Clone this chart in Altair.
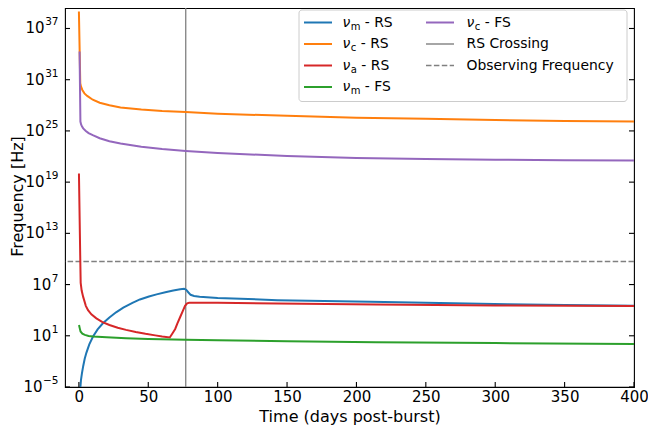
import altair as alt
import pandas as pd

# ---------------- data ----------------
t_num_rs = [1.1, 1.5, 2.2, 3.1, 4.2, 5.4, 7.5, 10.2, 13.5, 17.3, 22, 26.8, 32, 38.6, 44, 50.5,
            56, 62.3, 68, 73, 75.8, 77.3, 78.8, 80.5, 83, 87, 100, 143, 210, 260, 309, 350, 400]
num_rs = [1e-5, 6.3e-5, 4e-4, 2.75e-3, 0.02, 0.1, 1.0, 8.3, 56, 290, 1410, 5600, 2e4, 7.1e4,
          1.8e5, 4e5, 7.1e5, 1.26e6, 2e6, 2.8e6, 3.2e6, 2.5e6, 1.26e6, 6.3e5, 4.6e5, 3.8e5,
          2.75e5, 1.5e5, 9.5e4, 7.1e4, 5.1e4, 4e4, 3.2e4]

t_nuc_rs = [0.02, 1.0, 1.5, 2.5, 4, 6, 10, 15, 22, 30, 45, 60, 77, 100, 150, 200, 250, 300, 350, 400]
nuc_rs = [1e39, 4e30, 1.6e30, 6.3e29, 2.5e29, 1.26e29, 4.5e28, 2e28, 1e28, 5.6e27, 3.2e27,
          2.1e27, 1.6e27, 1.05e27, 5.8e26, 3.6e26, 2.6e26, 1.9e26, 1.5e26, 1.23e26]

t_nua_rs = [0.05, 1.0, 1.3, 2.0, 3.1, 5.0, 6.6, 9.0, 12.6, 17, 22, 28, 34, 41, 48, 55, 60, 65.5,
            67.5, 69.4, 71, 73, 75, 76.5, 78, 79.5, 90, 100, 143, 214, 300, 400]
nua_rs = [1e20, 1e10, 1.6e7, 2e6, 3.6e5, 3.2e4, 1e4, 3.2e3, 1.1e3, 400, 186, 89, 49, 27.5, 17,
          11.2, 8.3, 6.3, 20, 63, 282, 1580, 8900, 3.2e4, 6.3e4, 7.2e4, 7.4e4, 7.2e4, 6e4,
          4.6e4, 3.6e4, 3e4]

t_num_fs = [0.1, 0.6, 1.2, 2.5, 4.3, 7, 10.2, 20, 34, 50, 77, 100, 150, 214, 300, 400]
num_fs = [186, 79, 32, 17.8, 12.6, 9.5, 8.3, 6.6, 5.2, 4.3, 3.4, 2.95, 2.3, 1.8, 1.4, 1.07]

t_nuc_fs = [0.5, 1.1, 1.6, 2.2, 3.1, 5, 7, 10, 15, 22, 30, 45, 60, 77, 100, 150, 200, 250, 300, 350, 400]
nuc_fs = [2e34, 1.26e26, 5.6e25, 3.5e25, 2e25, 1e25, 5.6e24, 3.2e24, 1.4e24, 6.3e23, 3.3e23,
          1.4e23, 7.6e22, 4.5e22, 2.6e22, 1.15e22, 6.6e21, 5e21, 4.2e21, 3.7e21, 3.4e21]

t_crossing = [77]
nu_observing = [5e9]

x_tick_values = [0, 50, 100, 150, 200, 250, 300, 350, 400]
y_tick_values = [1e-5, 1e1, 1e7, 1e13, 1e19, 1e25, 1e31, 1e37]
y_tick_exponents = ["\u22125", "1", "7", "13", "19", "25", "31", "37"]

# ---------------- styling ----------------
FONT = "DejaVu Sans"
TICK_FS = 15
EXP_FS = 10.5
TITLE_FS = 16
LEG_FS = 13.9
W, H = 569, 379
BLUE, ORANGE, RED, GREEN, PURPLE = "#1f77b4", "#ff7f0e", "#d62728", "#2ca02c", "#9467bd"

xs = alt.Scale(domain=[-10, 400], nice=False, zero=False)
ys = alt.Scale(type="log", domain=[1e-5, 10 ** 39.4], nice=False)

xaxis = alt.Axis(values=x_tick_values, ticks=False, domain=False, grid=False,
                 labelFont=FONT, labelFontSize=TICK_FS, labelColor="black", labelPadding=2,
                 labelFlush=False, labelOverlap=False, labelBound=False,
                 title="Time (days post-burst)", titleFont=FONT, titleFontSize=TITLE_FS,
                 titleFontWeight="normal", titleColor="black",
                 titleX=W / 2, titleY=29, titleBaseline="middle", titleAlign="center")
yaxis = alt.Axis(labels=False, ticks=False, domain=False, grid=False,
                 title="Frequency [Hz]", titleFont=FONT, titleFontSize=TITLE_FS,
                 titleFontWeight="normal", titleColor="black",
                 titleX=-47.5, titleY=188, titleAngle=270, titleBaseline="middle",
                 titleAlign="center")

X = lambda: alt.X("t:Q", scale=xs, axis=xaxis)
Y = lambda: alt.Y("nu:Q", scale=ys, axis=yaxis)

layers = []

# observing frequency & crossing
layers.append(alt.Chart(pd.DataFrame({"nu": nu_observing})).mark_rule(
    color="#808080", strokeDash=[5.5, 2.4], strokeWidth=1.5).encode(y=Y()))
layers.append(alt.Chart(pd.DataFrame({"t": t_crossing})).mark_rule(
    color="#808080", strokeWidth=1.3).encode(x=X()))

series = [
    (t_num_rs, num_rs, BLUE),
    (t_nuc_rs, nuc_rs, ORANGE),
    (t_nua_rs, nua_rs, RED),
    (t_num_fs, num_fs, GREEN),
    (t_nuc_fs, nuc_fs, PURPLE),
]
for t, v, c in series:
    df = pd.DataFrame({"t": t, "nu": v})
    layers.append(alt.Chart(df).mark_line(color=c, strokeWidth=2, clip=True).encode(
        x=X(), y=Y(), order="t:Q"))

# inward ticks
ydf = pd.DataFrame({"nu": y_tick_values, "e": y_tick_exponents})
xdf = pd.DataFrame({"t": x_tick_values})
layers.append(alt.Chart(ydf).mark_rule(color="black", strokeWidth=1.1).encode(
    y=Y(), x=alt.value(0), x2=alt.value(5)))
layers.append(alt.Chart(ydf).mark_rule(color="black", strokeWidth=1.1).encode(
    y=Y(), x=alt.value(W - 5), x2=alt.value(W)))
layers.append(alt.Chart(xdf).mark_rule(color="black", strokeWidth=1.1).encode(
    x=X(), y=alt.value(H - 5), y2=alt.value(H)))

# y tick labels "10" + exponent
EXP_RIGHT = -6.5
DIG = 0.636 * EXP_FS
MINUS = 0.838 * EXP_FS
for ew, sel in [(2 * DIG, lambda e: len(e) == 2 and not e.startswith("\u2212")),
                (DIG, lambda e: len(e) == 1),
                (DIG + MINUS, lambda e: e.startswith("\u2212"))]:
    sub = ydf[ydf["e"].map(sel)]
    layers.append(alt.Chart(sub).mark_text(font=FONT, fontSize=TICK_FS, align="right",
                                           baseline="middle", color="black", text="10").encode(
        y=Y(), x=alt.value(EXP_RIGHT - ew - 0.5)))
    layers.append(alt.Chart(sub).mark_text(font=FONT, fontSize=EXP_FS, align="right",
                                           baseline="middle", color="black", dy=-6).encode(
        y=Y(), x=alt.value(EXP_RIGHT), text="e:N"))

# ---------------- legend (drawn by hand, matplotlib-like) ----------------
dummy = pd.DataFrame({"d": [0]})


def txt(x, y, s, size=LEG_FS, italic=False, dy=0):
    return alt.Chart(dummy).mark_text(text=s, font=FONT, fontSize=size,
                                      fontStyle="italic" if italic else "normal",
                                      align="left", baseline="middle", dy=dy,
                                      color="black").encode(x=alt.value(x), y=alt.value(y))


def handle(x1, x2, y, color, dash=None, width=2.0):
    kw = dict(color=color, strokeWidth=width)
    if dash:
        kw["strokeDash"] = dash
    return alt.Chart(dummy).mark_rule(**kw).encode(x=alt.value(x1), x2=alt.value(x2), y=alt.value(y))


# legend anchored to the upper-right corner of the plot area
R = W - 7
layers.append(alt.Chart(dummy).mark_rect(fill="white", fillOpacity=0.8, stroke="#cccccc",
                                         strokeWidth=1, cornerRadius=3).encode(
    x=alt.value(R - 328), x2=alt.value(R), y=alt.value(2), y2=alt.value(93.5)))

rows = [14.5, 36, 57.5, 79]
SUBW = {"m": 9.5, "c": 5.5, "a": 6.1}
SPACE = 0.318 * LEG_FS
NU_W = 8.3
L0 = R - 328
c1h, c1t = (L0 + 5, L0 + 33), L0 + 43.5
c2h, c2t = (L0 + 127, L0 + 155), L0 + 167.5

col1 = [("m", "- RS", BLUE), ("c", "- RS", ORANGE), ("a", "- RS", RED), ("m", "- FS", GREEN)]
for (s, rest, color), ry in zip(col1, rows):
    layers.append(handle(c1h[0], c1h[1], ry, color))
    layers.append(txt(c1t, ry, "\u03bd", italic=True))
    layers.append(txt(c1t + NU_W, ry, s, size=10, dy=4))
    layers.append(txt(c1t + NU_W + SUBW[s] + SPACE, ry, rest))

layers.append(handle(c2h[0], c2h[1], rows[0], PURPLE))
layers.append(txt(c2t, rows[0], "\u03bd", italic=True))
layers.append(txt(c2t + NU_W, rows[0], "c", size=10, dy=4))
layers.append(txt(c2t + NU_W + SUBW["c"] + SPACE, rows[0], "- FS"))
layers.append(handle(c2h[0], c2h[1], rows[1], "#808080", width=1.4))
layers.append(txt(c2t, rows[1], "RS Crossing"))
layers.append(handle(c2h[0], c2h[1], rows[2], "#808080", dash=[5.5, 2.4], width=1.5))
layers.append(txt(c2t, rows[2], "Observing Frequency"))

chart = alt.layer(*layers).properties(
    width=W, height=H,
    padding={"left": 57, "top": 0, "right": 14, "bottom": 38},
    autosize=alt.AutoSizeParams(type="none"),
    background="white",
).configure_view(stroke="black", strokeWidth=1.1).configure_axis(grid=False)

chart.save("out.html", embed_options={"renderer": "svg", "actions": False})
